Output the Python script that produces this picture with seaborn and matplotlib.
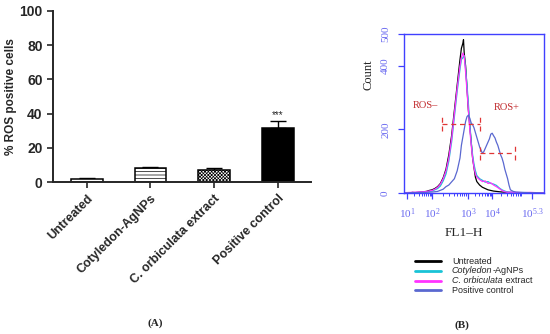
import matplotlib
matplotlib.use("Agg")
import matplotlib.pyplot as plt
from matplotlib.lines import Line2D
import numpy as np
import pandas as pd
import seaborn as sns

# ---- panel A: % ROS positive cells ----
groups = ["Untreated", "Cotyledon-AgNPs", "C. orbiculata extract", "Positive control"]
ros_mean = [1.8, 8.3, 7.0, 31.4]
ros_err = [0.8, 0.6, 1.0, 4.3]

# ---- panel B: flow cytometry histograms (x in display channel units 0-100) ----
u_untreated = [0, 2, 4, 6, 8, 10, 12, 14, 16, 18, 20, 22, 24, 26, 28, 30, 32, 34, 36, 38, 40, 41, 42,
               42.5, 43, 44, 45, 46, 47, 48, 49, 50, 51, 52, 54, 56, 58, 60, 62, 64, 66, 68, 70,
               75, 80, 85, 90, 95, 100]
c_untreated = [0, 1, 0, 2, 1, 2, 3, 4, 5, 8, 10, 14, 20, 30, 48, 75, 120, 180, 260, 340, 420, 455, 470,
               482, 440, 400, 330, 260, 210, 160, 110, 80, 50, 36, 25, 18, 14, 10, 8, 6, 5, 4, 3,
               2, 1, 1, 0, 1, 0]

u_agnps = [0, 5, 10, 15, 20, 22, 24, 26, 28, 30, 32, 34, 36, 38, 40, 41, 42, 43, 44, 45, 46, 47, 48,
           49, 50, 51, 52, 54, 56, 58, 60, 62, 64, 66, 68, 70, 72, 74, 76, 80, 90, 100]
c_agnps = [0, 1, 2, 3, 6, 10, 14, 22, 38, 60, 100, 160, 240, 320, 390, 420, 425, 432, 390, 340, 280,
           220, 160, 120, 90, 70, 55, 45, 40, 34, 36, 30, 28, 24, 16, 10, 6, 3, 2, 1, 1, 0]

u_extract = [0, 5, 10, 15, 20, 22, 24, 26, 28, 30, 32, 34, 36, 38, 40, 41, 42, 43, 44, 45, 46, 47, 48,
             49, 50, 51, 52, 54, 56, 58, 60, 62, 64, 66, 68, 70, 72, 74, 76, 80, 85, 90, 95, 100]
c_extract = [1, 2, 3, 4, 8, 12, 18, 28, 45, 70, 110, 170, 250, 330, 400, 425, 440, 430, 380, 320, 260,
             200, 150, 110, 80, 60, 50, 42, 36, 38, 30, 32, 25, 20, 14, 8, 4, 2, 3, 2, 1, 2, 1, 1]

u_positive = [0, 5, 10, 15, 20, 24, 28, 30, 32, 34, 36, 38, 40, 41, 42, 43, 44, 45, 46, 47, 48, 49, 50,
              51, 52, 53, 54, 55, 56, 57, 58, 59, 60, 61, 62, 63, 64, 65, 66, 67, 68, 69, 70, 71, 72,
              73, 74, 75, 76, 78, 80, 85, 90, 95, 100]
c_positive = [0, 1, 1, 2, 3, 5, 12, 20, 25, 35, 45, 70, 110, 150, 175, 200, 225, 240, 245, 235, 220,
              215, 205, 190, 175, 160, 145, 135, 125, 130, 140, 150, 160, 170, 185, 188, 180, 173, 160,
              150, 135, 120, 110, 95, 75, 60, 45, 25, 10, 5, 3, 2, 1, 1, 0]

x_tick_pos = [2.1, 20, 45.7, 62.9, 91.4]
x_tick_labels = [r"$\mathrm{10^{1}}$", r"$\mathrm{10^{2}}$", r"$\mathrm{10^{3}}$",
                 r"$\mathrm{10^{4}}$", r"$\mathrm{10^{5.3}}$"]

# legend text split into an italic part and a plain part
legend_italic = ["", "Cotyledon", "C. orbiculata", ""]
legend_plain = ["Untreated", "-AgNPs", " extract", "Positive control"]
line_colors = ["black", "#19C3D6", "#FF33FF", "#5A68D0"]

sns.set_style("ticks")
plt.rcParams["font.family"] = ["Liberation Sans", "DejaVu Sans"]
plt.rcParams["mathtext.fontset"] = "custom"
plt.rcParams["mathtext.rm"] = "Liberation Serif"
plt.rcParams["hatch.linewidth"] = 0.5

fig = plt.figure(figsize=(5.5, 3.34), dpi=100)

# ---------------- Panel A ----------------
ax = fig.add_axes([53 / 550, 1 - 182 / 334, (311 - 53) / 550, (182 - 11) / 334])
df = pd.DataFrame({"group": groups, "ros": ros_mean})
sns.barplot(data=df, x="group", y="ros", ax=ax, width=0.5, color="white",
            edgecolor="black", linewidth=1.1, zorder=2)
bars = ax.patches
bars[1].set_hatch("-----")
bars[2].set_hatch("xxxxxxxxxx")
bars[3].set_facecolor("black")
ax.errorbar(range(len(groups)), ros_mean, yerr=[np.zeros(len(groups)), ros_err],
            fmt="none", ecolor="black", elinewidth=1, capsize=5.5, capthick=1, zorder=1)
ax.text(3, ros_mean[3] + ros_err[3] + 0.6, "***", ha="center", va="bottom", fontsize=7)
ax.set_ylim(0, 100)
ax.set_xlim(-0.53, 3.52)
ax.set_yticks([0, 20, 40, 60, 80, 100])
ax.set_xlabel("")
ax.set_ylabel("% ROS positive cells", fontsize=8.5, fontweight="bold")
ax.yaxis.set_label_coords(-36 / 258, 0.5)
for s in ["top", "right"]:
    ax.spines[s].set_visible(False)
for s in ["left", "bottom"]:
    ax.spines[s].set_linewidth(1.4)
ax.tick_params(axis="both", width=1.2, length=4, labelsize=10)
for t in ax.get_yticklabels():
    t.set_fontweight("bold")
ax.set_xticks(range(len(groups)))
ax.set_xticklabels(groups, rotation=45, ha="right", rotation_mode="anchor",
                   fontsize=9, fontweight="bold")
fig.text(155 / 550, 1 - 323 / 334, "(A)", ha="center", va="center",
         fontsize=8, fontweight="bold", family="Liberation Serif")

# ---------------- Panel B ----------------
bx = fig.add_axes([404 / 550, 1 - 193 / 334, 140 / 550, (193 - 34) / 334])
curves = [(u_untreated, c_untreated), (u_agnps, c_agnps),
          (u_extract, c_extract), (u_positive, c_positive)]
for (u, c), col in zip(curves, line_colors):
    sns.lineplot(x=u, y=c, ax=bx, color=col, linewidth=0.9, sort=False)

gate_kw = dict(color="#E03535", linestyle=(0, (4, 3)), linewidth=0.9)
bx.plot([26.9, 54.3], [217, 217], **gate_kw)
bx.plot([26.9, 26.9], [195, 240], **gate_kw)
bx.plot([54.3, 54.3], [195, 240], **gate_kw)
bx.plot([54.3, 79.3], [125, 125], **gate_kw)
bx.plot([54.3, 54.3], [105, 145], **gate_kw)
bx.plot([79.3, 79.3], [105, 150], **gate_kw)
bx.text(15, 276, "ROS\u2013", color="#C0282B", ha="center", va="center",
        fontsize=7.5, family="Liberation Serif")
bx.text(73, 270, "ROS+", color="#C0282B", ha="center", va="center",
        fontsize=7.5, family="Liberation Serif")

bx.set_xlim(0, 100)
bx.set_ylim(0, 500)
bx.set_yticks([0, 200, 400, 500])
bx.set_yticklabels(["0", "200", "400", "500"], rotation=90, va="center",
                   family="Liberation Serif", fontsize=8, color="#6A6AF0")
bx.set_xticks(x_tick_pos)
bx.set_xticklabels(x_tick_labels, fontsize=8, color="#6A6AF0")
decades = [2.1, 20, 45.7, 62.9, 84.8, 91.4]
minor = []
for a, b in zip(decades[:-2], decades[1:-1]):
    minor += [a + np.log10(m) * (b - a) for m in range(2, 10)]
minor += [84.8 + np.log10(m) * (84.8 - 62.9) for m in range(2, 3)]
bx.set_xticks(minor, minor=True)
for s in bx.spines.values():
    s.set_color("#4040FF")
    s.set_linewidth(1.0)
bx.tick_params(axis="both", which="major", color="#4040FF", length=4, width=0.9, pad=6)
bx.tick_params(axis="x", which="minor", color="#4040FF", length=2.5, width=0.7)
bx.set_xlabel("")
bx.set_ylabel("")
fig.text(368 / 550, 1 - 75 / 334, "Count", rotation=90, ha="center", va="center",
         fontsize=9, family="Liberation Serif")
fig.text(463.5 / 550, 1 - 233 / 334, "FL1\u2013H", ha="center", va="center",
         fontsize=9.5, family="Liberation Serif")

# legend drawn row by row so the tight row spacing of the original is kept
renderer = fig.canvas.get_renderer()
row_y0, row_step = 261, 9.8
for i, (it, pl, col) in enumerate(zip(legend_italic, legend_plain, line_colors)):
    y = 1 - (row_y0 + i * row_step) / 334
    fig.add_artist(Line2D([415 / 550, 441 / 550], [y, y], color=col, linewidth=2))
    x0 = 452
    if it:
        t = fig.text(x0 / 550, y, it, ha="left", va="center", fontsize=6.5, style="italic")
        x0 += t.get_window_extent(renderer).width
    fig.text(x0 / 550, y, pl, ha="left", va="center", fontsize=6.5)
fig.text(462 / 550, 1 - 325 / 334, "(B)", ha="center", va="center",
         fontsize=8, fontweight="bold", family="Liberation Serif")

fig.savefig("out.png", dpi=100)
